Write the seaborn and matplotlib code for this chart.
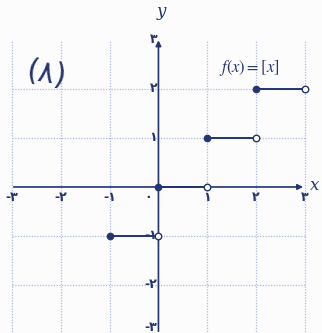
import matplotlib
matplotlib.use("Agg")
import matplotlib.pyplot as plt
import seaborn as sns
import pandas as pd
import numpy as np

# Floor function f(x) = [x] on [-1, 3)
seg_start = [-1, 0, 1, 2]
seg_end = [0, 1, 2, 3]
seg_value = [-1, 0, 1, 2]

x_ticks = [-3, -2, -1, 0, 1, 2, 3]
x_tick_labels = ["-۳", "-۲", "-۱", "۰", "۱", "۲", "۳"]
y_ticks = [3, 2, 1, -1, -2, -3]
y_tick_labels = ["۳", "۲", "۱", "-۱", "-۲", "-۳"]

ink = "#23346f"
grid_c = "#aebbe0"

sns.set_style("white")
plt.rcParams['font.family'] = ['DejaVu Sans']
plt.rcParams['mathtext.fontset'] = 'stix'

fig = plt.figure(figsize=(3.22, 3.33), dpi=100)
fig.patch.set_facecolor("#fcfcfd")
ax = fig.add_axes([0, 0, 1, 1])
ax.set_facecolor("#fcfcfd")
ax.set_xlim(-3.245, 3.35)
ax.set_ylim(-2.98, 3.816)
for s in ax.spines.values():
    s.set_visible(False)
ax.set_xticks([]); ax.set_yticks([])

# dotted grid
for gx in x_ticks:
    ax.plot([gx, gx], [-3, 3], ls=(0, (1, 1.2)), color=grid_c, lw=0.9, zorder=1)
for gy in [-2, -1, 1, 2]:
    ax.plot([-3, 3], [gy, gy], ls=(0, (1, 1.2)), color=grid_c, lw=0.9, zorder=1)

# axes with arrows
ax.annotate("", xy=(3.02, 0), xytext=(-3.02, 0),
            arrowprops=dict(arrowstyle="-|>", color=ink, lw=1.2, mutation_scale=8), zorder=2)
ax.annotate("", xy=(0, 3.05), xytext=(0, -3.0),
            arrowprops=dict(arrowstyle="-|>", color=ink, lw=1.2, mutation_scale=8), zorder=2)

# step segments
rows = []
for i, (a, b, v) in enumerate(zip(seg_start, seg_end, seg_value)):
    rows.append({"seg": i, "x": a, "y": v})
    rows.append({"seg": i, "x": b, "y": v})
df = pd.DataFrame(rows)
sns.lineplot(data=df, x="x", y="y", units="seg", estimator=None,
             color=ink, lw=1.4, ax=ax, zorder=3)

closed = pd.DataFrame({"x": seg_start, "y": seg_value})
opened = pd.DataFrame({"x": seg_end, "y": seg_value})
sns.scatterplot(data=closed, x="x", y="y", color=ink, s=22, edgecolor=ink,
                linewidth=0.8, ax=ax, zorder=4)
sns.scatterplot(data=opened, x="x", y="y", color="white", s=22, edgecolor=ink,
                linewidth=1.0, ax=ax, zorder=4)
ax.set_xlabel(""); ax.set_ylabel("")

# tick labels
for xv, lab in zip(x_ticks, x_tick_labels):
    if xv == 0:
        ax.text(-0.22, -0.22, lab, ha="center", va="center", fontsize=9, color=ink,
                fontweight="bold")
    else:
        ax.text(xv, -0.22, lab, ha="center", va="center", fontsize=9, color=ink,
                fontweight="bold")
for yv, lab in zip(y_ticks, y_tick_labels):
    yy = -2.86 if yv == -3 else yv
    ax.text(-0.03, yy, lab, ha="right", va="center", fontsize=9, color=ink,
            fontweight="bold")

ax.text(3.2, 0.03, "x", ha="center", va="center", fontsize=12, color=ink,
        style="italic", family="DejaVu Serif")
ax.text(0.05, 3.58, "y", ha="center", va="center", fontsize=12, color=ink,
        style="italic", family="DejaVu Serif")
ax.text(1.86, 2.43, r"$f(x)=[x]$", ha="center", va="center", fontsize=12, color=ink)
ax.text(-2.3, 2.3, "(۸)", ha="center", va="center", fontsize=22, color=ink,
        rotation=-10)

fig.savefig("out.png", dpi=100, facecolor=fig.get_facecolor())
